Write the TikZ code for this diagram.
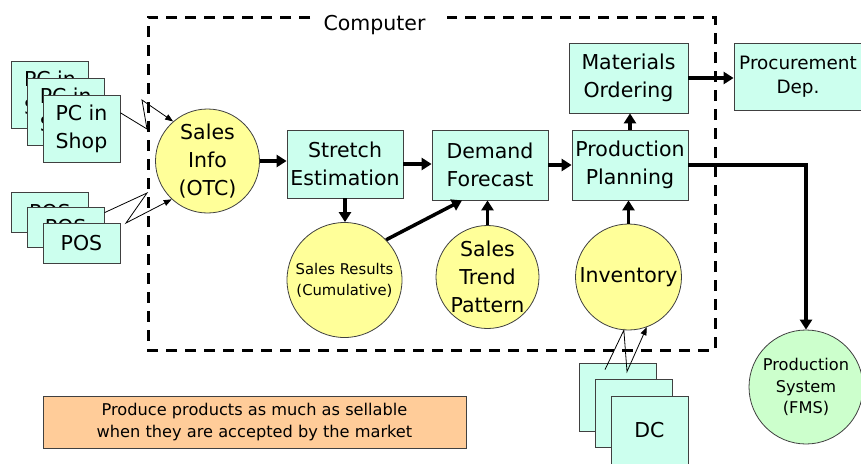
\documentclass[tikz,border=0pt]{standalone}
\usepackage{fontspec}
\setmainfont{DejaVu Sans}
\usetikzlibrary{arrows.meta}
\definecolor{boxcyan}{RGB}{204,255,238}
\definecolor{circyellow}{RGB}{255,255,153}
\definecolor{circgreen}{RGB}{204,255,204}
\definecolor{notebg}{RGB}{255,204,153}
\definecolor{edgegray}{RGB}{64,64,64}
\newcommand{\bigfont}{\fontsize{20.5}{28}\selectfont}
\newcommand{\procfont}{\fontsize{18.4}{24}\selectfont}
\newcommand{\midfont}{\fontsize{16.2}{21.5}\selectfont}
\newcommand{\smfont}{\fontsize{14.8}{21}\selectfont}
\newcommand{\notefont}{\fontsize{16.2}{22.5}\selectfont}

\begin{document}
\begin{tikzpicture}[x=1pt,y=-1pt,
  box/.style={draw=edgegray,line width=0.8pt,fill=boxcyan,minimum width=116pt,minimum height=68pt,align=center,inner sep=1pt,font=\bigfont},
  term/.style={box,minimum width=77pt},
  circ/.style={circle,draw=edgegray,line width=0.8pt,fill=circyellow,inner sep=0pt,align=center,font=\bigfont},
  frame/.style={line width=3pt,dash pattern=on 11pt off 8pt},
  flow/.style={line width=3.5pt,-{Triangle[length=10pt,width=12pt]}},
  bolt/.style={line width=0.8pt,-{Triangle[length=8pt,width=6pt]}}]
  \useasboundingbox (0,0) rectangle (861,463);
  % computer frame
  \draw[frame] (310,17) -- (148,17) -- (148,350) -- (715,350) -- (715,17) -- (447,17);
  \node[font=\bigfont] (computer) at (374.5,25) {Computer};
  % terminals outside
  \foreach \i in {1,2,3} {
    \node[term,minimum height=67pt] (pc\i) at ({50+15.75*(\i-1)},{95+16.75*(\i-1)}) {PC in\\Shop};
    \node[term,minimum height=40pt] (pos\i) at ({50+15.75*(\i-1)},{212+15.5*(\i-1)}) {POS};
    \node[term,minimum height=68pt] (dc\i) at ({618+15.75*(\i-1)},{397+16.5*(\i-1)}) {DC};
  }
  % processing
  \node[circ,minimum size=104pt] (salesinfo) at (207.5,161) {Sales\\Info\\(OTC)};
  \node[box] (stretch) at (345,164) {Stretch\\Estimation};
  \node[box,minimum height=70pt] (demand) at (490,165) {Demand\\Forecast};
  \node[box,minimum height=70pt] (prodplan) at (630,165) {Production\\Planning};
  \node[box,minimum width=119pt,minimum height=70pt] (materials) at (628.5,78) {Materials\\Ordering};
  \node[box,font=\procfont,minimum width=128pt,minimum height=67pt] (procure) at (798,76.5) {Procurement\\Dep.};
  \node[circ,minimum size=115pt,font=\smfont] (salesres) at (344.5,280) {Sales Results\\(Cumulative)};
  \node[circ,minimum size=103pt] (trend) at (487.5,277) {Sales\\Trend\\Pattern};
  \node[circ,minimum size=106pt] (inventory) at (628.5,277) {Inventory};
  \node[circ,fill=circgreen,minimum size=114pt,font=\midfont] (prodsys) at (806,387) {Production\\System\\(FMS)};
  \node[draw=edgegray,line width=0.8pt,fill=notebg,minimum width=423pt,minimum height=52pt,align=center,font=\notefont] (note) at (254.5,422) {Produce products as much as sellable\\when they are accepted by the market};
  % flows
  \draw[flow] (salesinfo.east) -- (salesinfo.east -| stretch.west);
  \draw[flow] (stretch.east) -- (stretch.east -| demand.west);
  \draw[flow] (demand.east) -- (demand.east -| prodplan.west);
  \draw[flow] (prodplan.north) -- (prodplan.north |- materials.south);
  \draw[flow] (materials.east) -- (materials.east -| procure.west);
  \draw[flow] (prodplan.east) -| (prodsys.north);
  \draw[flow] (stretch.south) -- (stretch.south |- salesres.north);
  \draw[flow] (salesres.44) -- ([xshift=-28pt]demand.south);
  \draw[flow] (trend.north) -- (trend.north |- demand.south);
  \draw[flow] (inventory.north) -- (inventory.north |- prodplan.south);
  % data links
  \draw[bolt] (pc3.22) -- (147,129) -- (142,100) -- (salesinfo.131);
  \draw[bolt] (pos2.21) -- (147,193) -- (126,223) -- (salesinfo.227);
  \draw[bolt] ([shift={(-13,7)}]dc1.north) -- (inventory.265) -- ([shift={(9,9)}]dc1.north) -- (inventory.290);
\end{tikzpicture}
\end{document}
